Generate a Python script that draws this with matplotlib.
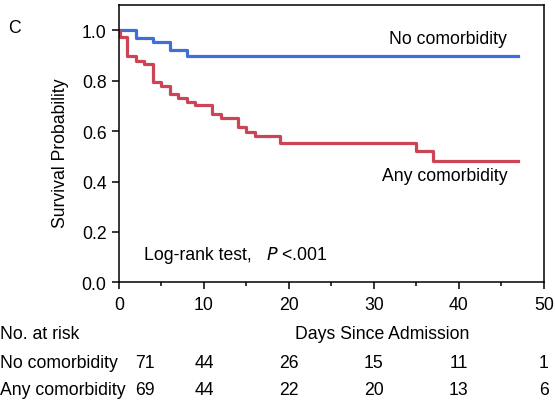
import matplotlib
matplotlib.use("Agg")
import matplotlib.pyplot as plt
import matplotlib.transforms as mtransforms

plt.rcParams['font.family'] = ['Liberation Sans', 'DejaVu Sans']

# Kaplan-Meier step data (days, survival probability)
days_none = [0, 2, 4, 6, 8, 47]
surv_none = [1.0, 0.968, 0.955, 0.922, 0.90, 0.90]

days_any = [0, 0.15, 0.9, 2, 3, 4, 5, 6, 7, 8, 9, 11, 12, 14, 15, 16, 19, 35, 37, 47]
surv_any = [1.0, 0.972, 0.897, 0.88, 0.868, 0.795, 0.778, 0.747, 0.731, 0.717, 0.703,
            0.666, 0.651, 0.616, 0.598, 0.579, 0.553, 0.52, 0.483, 0.483]

# number at risk table
risk_days = [0, 10, 20, 30, 40, 50]
risk_none = [71, 44, 26, 15, 11, 1]
risk_any = [69, 44, 22, 20, 13, 6]
group_names = ["No comorbidity", "Any comorbidity"]

blue = "#3d6fd6"
red = "#cb4557"
fs = 12.7

fig = plt.figure(figsize=(5.55, 4.06), dpi=100)
ax = fig.add_axes([0.2144, 0.302, 0.7656, 0.683])

ax.step(days_none, surv_none, where="post", color=blue, lw=2.3)
ax.step(days_any, surv_any, where="post", color=red, lw=2.3)

ax.set_xlim(0, 50)
ax.set_ylim(0, 1.1)
ax.set_xticks(range(0, 51, 10))
ax.set_xticks(range(5, 50, 10), minor=True)
ax.set_yticks([0, 0.2, 0.4, 0.6, 0.8, 1.0])
ax.set_yticklabels(["0.0", "0.2", "0.4", "0.6", "0.8", "1.0"])
ax.tick_params(axis="both", which="major", direction="out", length=5, width=1.1,
               labelsize=fs, pad=4)
ax.tick_params(axis="x", which="major", pad=5)
ax.tick_params(axis="x", which="minor", direction="out", length=3, width=1.1)
for sp in ax.spines.values():
    sp.set_linewidth(1.1)

ax.set_ylabel("Survival Probability", fontsize=fs)
ax.yaxis.set_label_coords(-0.117, 0.47)

ax.text(45.7, 0.968, group_names[0], ha="right", va="center", fontsize=fs)
ax.text(45.7, 0.423, group_names[1], ha="right", va="center", fontsize=fs)
ax.text(3, 0.11, "Log-rank test,", ha="left", va="center", fontsize=fs)
ax.text(17.3, 0.11, "$\\it{P}$ <.001", ha="left", va="center", fontsize=fs)

fig.text(0.015, 0.93, "C", fontsize=fs, ha="left", va="center")

# at-risk table below the axis
trans = mtransforms.blended_transform_factory(ax.transData, fig.transFigure)
fig.text(0.0, 0.175, "No. at risk", fontsize=fs, ha="left", va="center")
ax.text(31, 0.175, "Days Since Admission", transform=trans, fontsize=fs,
        ha="center", va="center", clip_on=False)
for row_y, name, counts in [(0.105, group_names[0], risk_none),
                            (0.038, group_names[1], risk_any)]:
    fig.text(0.0, row_y, name, fontsize=fs, ha="left", va="center")
    for d, n in zip(risk_days, counts):
        xpos = d + 3.1 if d == 0 else d
        ax.text(xpos, row_y, str(n), transform=trans, fontsize=fs,
                ha="center", va="center", clip_on=False)

fig.savefig("out.png", dpi=100)
